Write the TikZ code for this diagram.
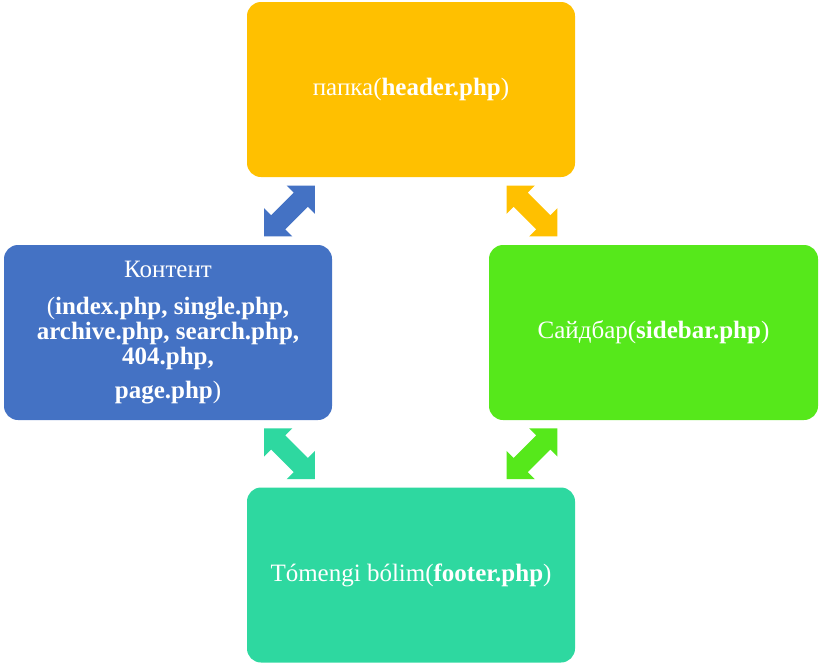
\documentclass[tikz,border=0pt]{standalone}
\usepackage{fontspec}
\setmainfont{Liberation Serif}
\usetikzlibrary{calc}
\definecolor{boxorange}{HTML}{FFC000}
\definecolor{boxblue}{HTML}{4472C4}
\definecolor{boxgreen}{HTML}{56E81B}
\definecolor{boxteal}{HTML}{2ED8A0}

\tikzset{
  part/.style={rounded corners=14pt, minimum width=328pt, minimum height=175pt,
    inner sep=0pt, text=white, align=center, font=\fontsize{25}{25}\selectfont},
  dblarrow/.pic={
    \fill (-36,0) -- (-16,20) -- (-16,10) -- (16,10) -- (16,20) -- (36,0)
      -- (16,-20) -- (16,-10) -- (-16,-10) -- (-16,-20) -- cycle;
  }
}

\begin{document}
\begin{tikzpicture}[x=1pt,y=-1pt]
  \useasboundingbox (0,0) rectangle (824,664);

  % template parts
  \node[part, fill=boxorange] (header) at (411,89.5) {папка(\textbf{header.php})};
  \node[part, fill=boxblue] (content) at (168,332.5)
    {Контент\\[12pt]
     (\textbf{index.php, single.php,}\\
     \textbf{archive.php, search.php,}\\
     \textbf{404.php,}\\[9pt]
     \textbf{page.php})};
  \node[part, fill=boxgreen, minimum width=329pt] (sidebar) at (653.5,332.5)
    {Сайдбар(\textbf{sidebar.php})};
  \node[part, fill=boxteal] (footer) at (411,575) {Tómengi bólim(\textbf{footer.php})};

  % two-way links between neighbouring parts
  \pic[fill=boxblue, rotate=45] (hc) at ($(header.south west)!0.5!(content.north east)$) {dblarrow};
  \pic[fill=boxorange, rotate=-45] (hs) at ($(header.south east)!0.5!(sidebar.north west)$) {dblarrow};
  \pic[fill=boxteal, rotate=-45] (cf) at ($(content.south east)!0.5!(footer.north west)$) {dblarrow};
  \pic[fill=boxgreen, rotate=45] (sf) at ($(sidebar.south west)!0.5!(footer.north east)$) {dblarrow};
\end{tikzpicture}
\end{document}
